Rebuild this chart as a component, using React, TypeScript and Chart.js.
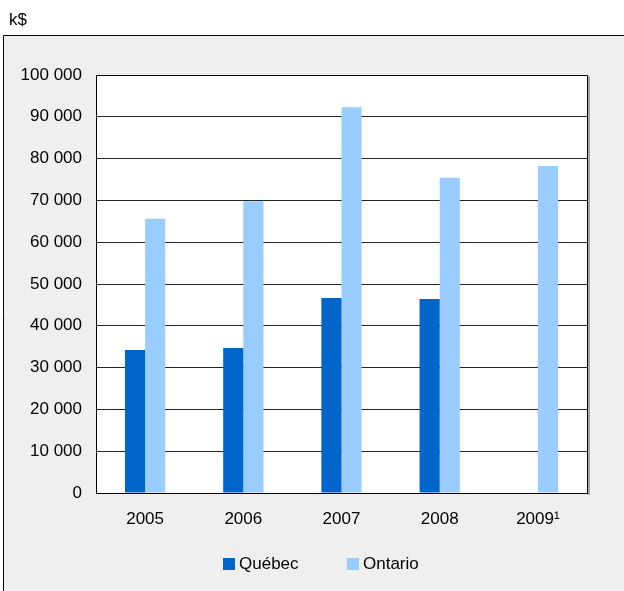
import React, { useEffect, useRef } from "react";
import { Chart, registerables } from "chart.js";

Chart.register(...registerables);

const years = ["2005", "2006", "2007", "2008", "2009\u00B9"];
const quebec = [34200, 34700, 46650, 46400, null];
const ontario = [65600, 69800, 92300, 75400, 78250];
const seriesNames = ["Québec", "Ontario"];
const seriesColors = ["#0066CC", "#99CCFF"];
const unitLabel = "k$";
const yMax = 100000;
const yStep = 10000;

const FONT = "Arial, 'Liberation Sans', sans-serif";
const FS = 17;

const backgroundPlugin = {
  id: "bgBox",
  beforeDraw(chart: any) {
    const { ctx, chartArea } = chart;
    const w = chart.width;
    const h = chart.height;
    ctx.save();
    ctx.fillStyle = "#ffffff";
    ctx.fillRect(0, 0, w, h);
    ctx.fillStyle = "#EFEFEF";
    ctx.fillRect(3, 35, w - 3, h - 35);
    ctx.strokeStyle = "#000000";
    ctx.lineWidth = 1;
    ctx.beginPath();
    ctx.moveTo(3.5, h);
    ctx.lineTo(3.5, 35.5);
    ctx.lineTo(w, 35.5);
    ctx.stroke();
    ctx.fillStyle = "#A6A6A6";
    ctx.fillRect(chartArea.right, chartArea.top + 1, 3, chartArea.bottom - chartArea.top + 1);
    ctx.fillStyle = "#ffffff";
    ctx.fillRect(chartArea.left, chartArea.top, chartArea.right - chartArea.left, chartArea.bottom - chartArea.top);
    ctx.restore();
  },
  afterDraw(chart: any) {
    const { ctx, chartArea } = chart;
    ctx.save();
    ctx.strokeStyle = "#000000";
    ctx.lineWidth = 1;
    ctx.beginPath();
    ctx.moveTo(chartArea.left, Math.round(chartArea.top) + 0.5);
    ctx.lineTo(Math.round(chartArea.right) + 0.5, Math.round(chartArea.top) + 0.5);
    ctx.lineTo(Math.round(chartArea.right) + 0.5, chartArea.bottom);
    ctx.stroke();
    ctx.restore();
  },
};

function fmt(v: number) {
  return String(v).replace(/\B(?=(\d{3})+(?!\d))/g, " ");
}

export default function App() {
  const ref = useRef<HTMLCanvasElement | null>(null);

  useEffect(() => {
    if (!ref.current) return;
    const chart = new Chart(ref.current, {
      type: "bar",
      data: {
        labels: years,
        datasets: [
          { label: seriesNames[0], data: quebec as any, backgroundColor: seriesColors[0], borderWidth: 0 },
          { label: seriesNames[1], data: ontario as any, backgroundColor: seriesColors[1], borderWidth: 0 },
        ],
      },
      options: {
        responsive: false,
        devicePixelRatio: 1,
        animation: false,
        layout: { padding: { left: 8, right: 37, top: 75, bottom: 58 } },
        plugins: {
          legend: { display: false },
          title: { display: false },
          tooltip: { enabled: false },
        },
        datasets: {
          bar: { categoryPercentage: 0.41, barPercentage: 1 },
        },
        scales: {
          x: {
            grid: { display: false, drawTicks: false },
            border: { display: true, color: "#000000", width: 1 },
            ticks: { color: "#000000", padding: 16, font: { family: FONT, size: FS } },
            afterFit(scale: any) {
              scale.height = 40;
            },
          },
          y: {
            min: 0,
            max: yMax,
            grid: { color: "#262626", lineWidth: 1, drawTicks: false },
            border: { display: true, color: "#000000", width: 1 },
            ticks: {
              stepSize: yStep,
              color: "#000000",
              padding: 14,
              font: { family: FONT, size: FS },
              callback: (v: any) => fmt(Number(v)),
            },
            afterFit(scale: any) {
              scale.width = 88;
            },
          },
        },
      },
      plugins: [backgroundPlugin],
    });
    return () => chart.destroy();
  }, []);

  const textStyle: React.CSSProperties = {
    position: "absolute",
    fontFamily: FONT,
    fontSize: FS,
    color: "#000",
    lineHeight: "20px",
    whiteSpace: "nowrap",
  };

  return (
    <div style={{ position: "absolute", left: 0, top: 0, width: 624, height: 591, overflow: "hidden" }}>
      <canvas ref={ref} width={624} height={591} style={{ display: "block", width: 624, height: 591 }} />
      <div style={{ ...textStyle, left: 9, top: 10 }}>{unitLabel}</div>
      <div style={{ position: "absolute", left: 223, top: 558, width: 12, height: 12, background: seriesColors[0] }} />
      <div style={{ ...textStyle, left: 239, top: 554 }}>{seriesNames[0]}</div>
      <div style={{ position: "absolute", left: 347, top: 558, width: 12, height: 12, background: seriesColors[1] }} />
      <div style={{ ...textStyle, left: 363, top: 554 }}>{seriesNames[1]}</div>
    </div>
  );
}
